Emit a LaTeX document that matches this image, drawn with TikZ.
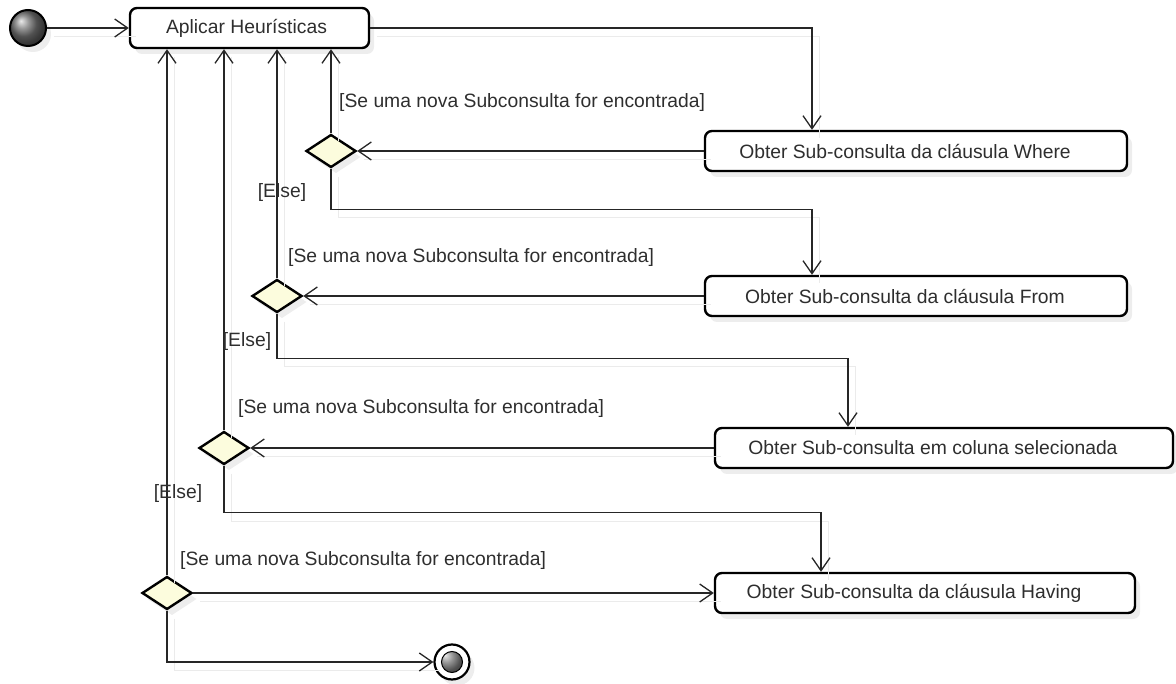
\documentclass[tikz,border=0pt]{standalone}
\usepackage{fontspec}
\setmainfont{Liberation Sans}
\usetikzlibrary{arrows.meta,shapes.geometric,shadows}
\definecolor{decisionfill}{RGB}{252,252,221}
\begin{document}
\begin{tikzpicture}[x=1pt,y=-1pt,
  txt/.style={font=\fontsize{19.3}{22}\selectfont, text=black!82},
  softshadow/.style={drop shadow={shadow xshift=5pt, shadow yshift=-6pt, fill=black!14}},
  action/.style={txt, draw=black, line width=2.4pt, rounded corners=7pt, fill=white,
    inner sep=0pt, minimum height=40pt, softshadow},
  % labels of the activities sit a little left of the box centre
  leftset/.style={execute at end node={\hspace*{#1}}},
  decision/.style={diamond, draw=black, line width=2.4pt, fill=decisionfill, inner sep=0pt,
    minimum width=50pt, minimum height=33pt, softshadow},
  initial/.style={circle, draw=black, line width=2pt, minimum size=36pt, inner sep=0pt,
    shading=ball, ball color=black!55, softshadow},
  final/.style={circle, draw=black, line width=2.2pt, minimum size=35pt, inner sep=0pt,
    fill=white, softshadow,
    path picture={\shadedraw[ball color=black!55, draw=black, line width=1pt]
      (path picture bounding box.center) circle[radius=10.5pt];}},
  flow/.style={draw=black!85, line width=1.4pt,
    -{Straight Barb[length=13pt,width=18pt,line width=1.3pt]},
    preaction={draw=black!8, -, transform canvas={shift={(7pt,-8pt)}}}},
  guard/.style={txt, inner sep=0pt}
]
\useasboundingbox (0,0) rectangle (1176,684);

% activities
\node[initial] (start) at (28,28) {};
\node[action, leftset=6pt,  minimum width=239pt] (apply)  at (249.5,28) {Aplicar Heurísticas};
\node[action, leftset=22pt, minimum width=422pt] (where)  at (916,151) {Obter Sub-consulta da cláusula Where};
\node[action, leftset=22pt, minimum width=422pt] (from)   at (916,296) {Obter Sub-consulta da cláusula From};
\node[action, leftset=22pt, minimum width=458pt] (column) at (944,448) {Obter Sub-consulta em coluna selecionada};
\node[action, leftset=22pt, minimum width=420pt] (having) at (925,593) {Obter Sub-consulta da cláusula Having};

% decisions
\node[decision] (d1) at (331,151) {};
\node[decision] (d2) at (277,296) {};
\node[decision] (d3) at (224,448) {};
\node[decision] (d4) at (167,593) {};

\node[final] (stop) at (452,662) {};

% control flow
\draw[flow] (start) -- (apply);
\draw[flow] (apply.east) -| ([xshift=-104pt]where.north);

\draw[flow] (where.west) -- (d1.east);
\draw[flow] (d1.north) -- (d1.north |- apply.south);
\draw[flow] (d1.south) -- ++(0,41) -| ([xshift=-104pt]from.north);

\draw[flow] (from.west) -- (d2.east);
\draw[flow] (d2.north) -- (d2.north |- apply.south);
\draw[flow] (d2.south) -- ++(0,45) -| ([xshift=-96pt]column.north);

\draw[flow] (column.west) -- (d3.east);
\draw[flow] (d3.north) -- (d3.north |- apply.south);
\draw[flow] (d3.south) -- ++(0,47) -| ([xshift=-104pt]having.north);

\draw[flow] (d4.east) -- (having.west);
\draw[flow] (d4.north) -- (d4.north |- apply.south);
\draw[flow] (d4.south) |- (stop.west);

% guards
\node[guard, anchor=west] (g1) at (339,103) {[Se uma nova Subconsulta for encontrada]};
\node[guard, anchor=west] (g2) at (288,258) {[Se uma nova Subconsulta for encontrada]};
\node[guard, anchor=west] (g3) at (238,409) {[Se uma nova Subconsulta for encontrada]};
\node[guard, anchor=west] (g4) at (180,561) {[Se uma nova Subconsulta for encontrada]};
\node[guard] (e1) at (282,193) {[Else]};
\node[guard] (e2) at (247,342) {[Else]};
\node[guard] (e3) at (178,494) {[Else]};
\end{tikzpicture}
\end{document}
